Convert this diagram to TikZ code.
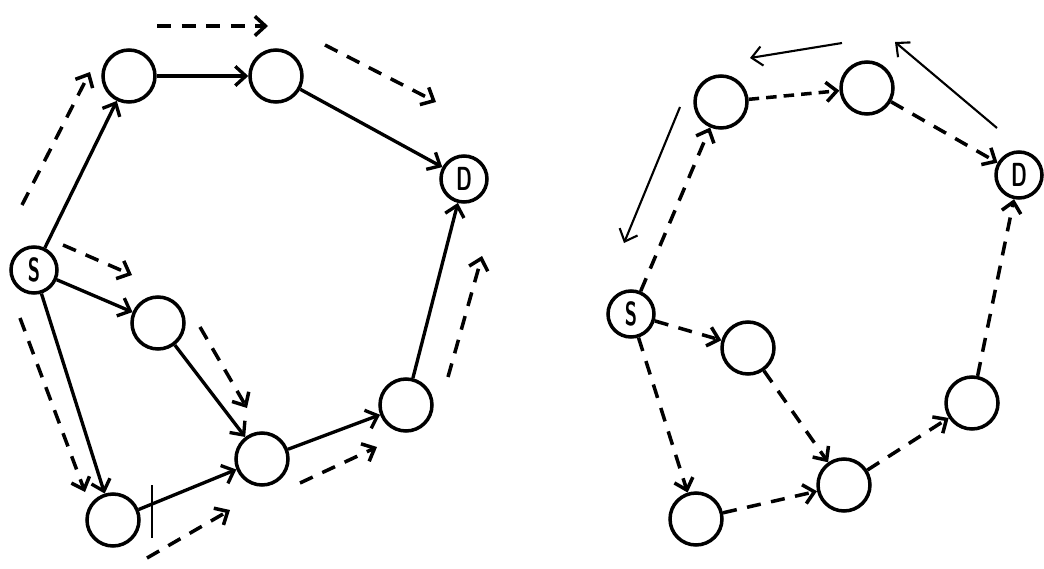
\documentclass[tikz,border=0pt]{standalone}
\usepackage{tikz}
\usetikzlibrary{arrows.meta}
\newcommand{\slimtext}[1]{\scalebox{0.6}[1]{#1}}

\begin{document}
\begin{tikzpicture}[x=0.02cm, y=-0.02cm,
    >={Straight Barb[length=6pt,width=11pt]},
    vertex/.style={circle, draw, line width=2pt, minimum size=1.04cm, inner sep=0pt},
    endpoint/.style={vertex, minimum size=0.92cm, font=\sffamily\bfseries\fontsize{19}{19}\selectfont},
    link/.style={->, line width=1.9pt},
    probe/.style={->, line width=2pt, dash pattern=on 8pt off 6pt},
    reply/.style={->, line width=1.2pt}]
    \useasboundingbox (0,0) rectangle (1044,568);

    % left graph
    \node[endpoint] (ls) at (34,270) {\slimtext{S}};
    \node[vertex] (la) at (129,76) {};
    \node[vertex] (lb) at (276,76) {};
    \node[endpoint] (ld) at (464,179) {\slimtext{D}};
    \node[vertex] (lc) at (158,323) {};
    \node[vertex] (le) at (262,459) {};
    \node[vertex] (lf) at (406,405) {};
    \node[vertex] (lg) at (113,520) {};

    \draw[link] (ls) -- (la);
    \draw[link] (la) -- (lb);
    \draw[link] (lb) -- (ld);
    \draw[link] (ls) -- (lc);
    \draw[link] (ls) -- (lg);
    \draw[link] (lc) -- (le);
    \draw[link] (lg) -- (le);
    \draw[link] (le) -- (lf);
    \draw[link] (lf) -- (ld);
    \draw[line width=0.7pt] (152,485) -- (152,538);

    \coordinate (p1a) at (22,205);  \coordinate (p1b) at (90,72);
    \coordinate (p2a) at (157,26);  \coordinate (p2b) at (268,26);
    \coordinate (p3a) at (325,45);  \coordinate (p3b) at (436,102);
    \coordinate (p4a) at (63,245);  \coordinate (p4b) at (132,275);
    \coordinate (p5a) at (200,327); \coordinate (p5b) at (247,408);
    \coordinate (p6a) at (20,318);  \coordinate (p6b) at (85,492);
    \coordinate (p7a) at (147,558); \coordinate (p7b) at (230,510);
    \coordinate (p8a) at (300,483); \coordinate (p8b) at (377,447);
    \coordinate (p9a) at (448,377); \coordinate (p9b) at (482,256);
    \foreach \i in {1,...,9}
        \draw[probe] (p\i a) -- (p\i b);

    % right graph
    \node[endpoint] (rs) at (631,314) {\slimtext{S}};
    \node[vertex] (ra) at (721,102) {};
    \node[vertex] (rb) at (867,88) {};
    \node[endpoint] (rd) at (1019,175) {\slimtext{D}};
    \node[vertex] (rc) at (748,348) {};
    \node[vertex] (re) at (844,485) {};
    \node[vertex] (rf) at (972,403) {};
    \node[vertex] (rg) at (696,519) {};

    \draw[probe] (rs) -- (ra);
    \draw[probe, dash pattern=on 6pt off 4pt] (ra) -- (rb);
    \draw[probe] (rb) -- (rd);
    \draw[probe] (rs) -- (rc);
    \draw[probe] (rc) -- (re);
    \draw[probe] (rs) -- (rg);
    \draw[probe] (rg) -- (re);
    \draw[probe] (re) -- (rf);
    \draw[probe] (rf) -- (rd);

    \coordinate (q1a) at (997,128); \coordinate (q1b) at (895,42);
    \coordinate (q2a) at (842,43);  \coordinate (q2b) at (750,58);
    \coordinate (q3a) at (680,107); \coordinate (q3b) at (624,243);
    \foreach \i in {1,2,3}
        \draw[reply] (q\i a) -- (q\i b);
\end{tikzpicture}
\end{document}
